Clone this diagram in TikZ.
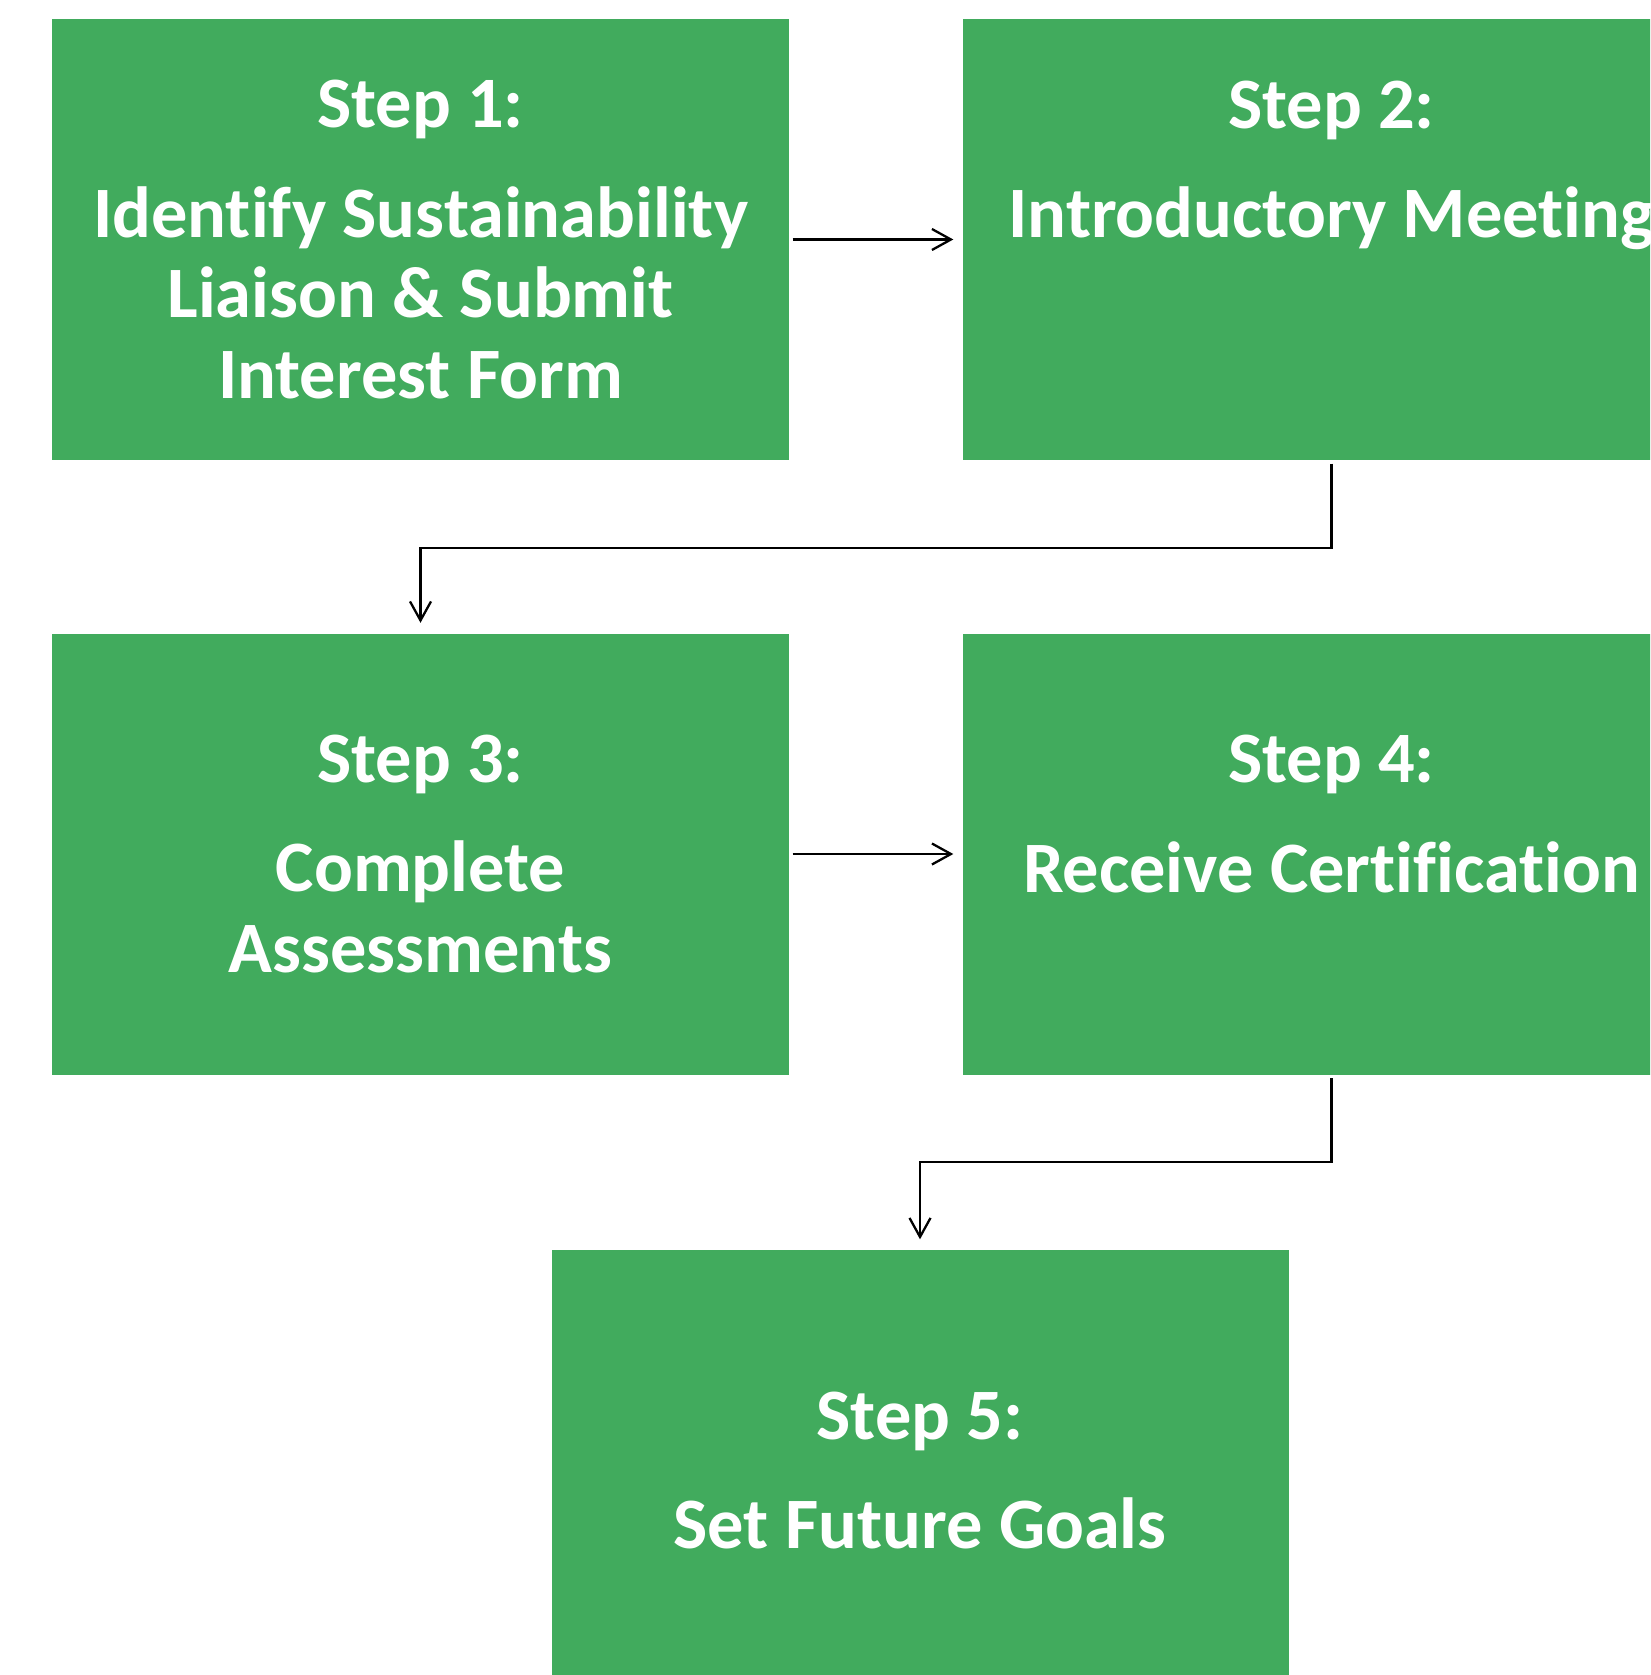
\documentclass[tikz,border=0pt]{standalone}
\usepackage{fontspec}
\setmainfont{Carlito}[Ligatures=NoCommon]
\usetikzlibrary{arrows.meta}
\definecolor{stepgreen}{RGB}{65,171,93}

\begin{document}
\begin{tikzpicture}[
	stepbox/.style={fill=stepgreen, text=white, minimum width=7.37cm, minimum height=4.41cm,
		inner sep=0pt, align=center, font=\bfseries\fontsize{20.6}{22.9}\selectfont},
	arr/.style={draw=black, line width=0.65pt, -{Straight Barb[length=1.9mm, width=2.1mm]}}
	]
		\useasboundingbox (0,0) rectangle (16.5,-16.75);
		\clip (0,0) rectangle (16.5,-16.75);
		\node[stepbox] (b1) at (4.205,-2.395)
			{Step 1:\\[0.29cm]Identify Sustainability\\Liaison \& Submit\\Interest Form};
		\node[stepbox] (b2) at (13.315,-2.395)
			{Step 2:\\[0.29cm]Introductory Meeting\\\phantom{I}\\\phantom{I}};
		\node[stepbox] (b3) at (4.205,-8.54)
			{Step 3:\\[0.29cm]Complete\\Assessments};
		\node[stepbox] (b4) at (13.315,-8.54)
			{Step 4:\\[0.29cm]Receive Certification\\\phantom{I}};
		\node[stepbox] (b5) at (9.2,-14.705)
			{Step 5:\\[0.29cm]Set Future Goals};
		\foreach \a/\b in {b1/b2,b3/b4}
			{
				\draw[arr, shorten <=0.03cm, shorten >=0.09cm] (\a.east) -- (\b.west);
			}
		\foreach \a/\b in {b2/b3,b4/b5}
			{
				\draw[arr, shorten <=0.03cm, shorten >=0.1cm] (\a.south) -- ++(0,-0.87) -| (\b.north);
			}
	\end{tikzpicture}
\end{document}
